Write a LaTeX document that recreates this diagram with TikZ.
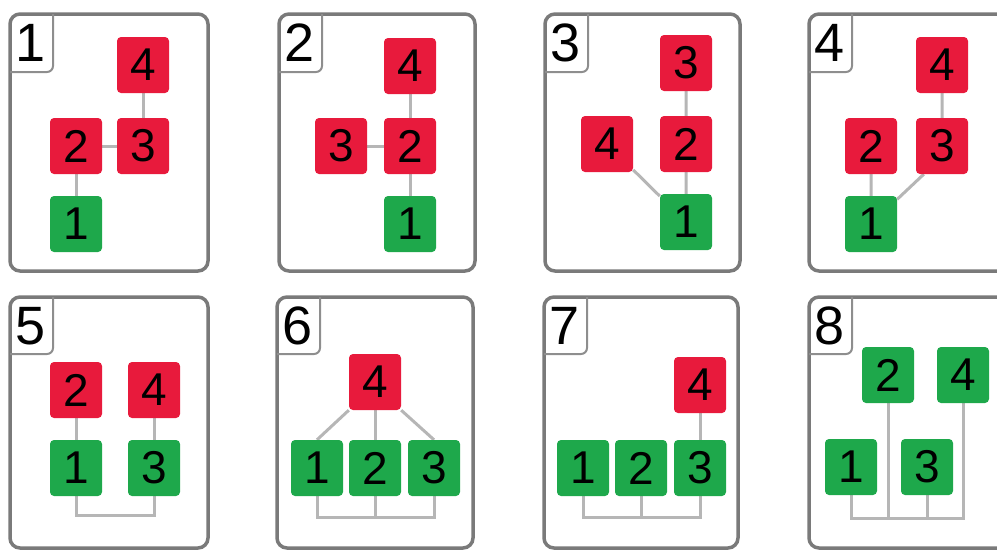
\documentclass[tikz,border=0pt]{standalone}
\usepackage{fontspec}
\setmainfont{Liberation Sans}
\usepackage{tikz}
\usetikzlibrary{backgrounds}

\definecolor{tilered}{RGB}{232,26,60}
\definecolor{tilegreen}{RGB}{30,168,75}
\definecolor{framegray}{RGB}{122,122,122}
\definecolor{linkgray}{RGB}{182,182,182}

\tikzset{
	tile/.style={rounded corners=4pt,minimum width=52pt,minimum height=56pt,inner sep=0pt,font=\fontsize{46}{46}\selectfont},
	redtile/.style={tile,fill=tilered},
	greentile/.style={tile,fill=tilegreen},
	link/.style={draw=linkgray,line width=3pt},
	frame/.style={draw=framegray,line width=3.5pt,rounded corners=10pt},
	tabline/.style={draw=framegray!85,line width=2pt,rounded corners=6pt},
	tabnum/.style={inner sep=0pt,font=\fontsize{54}{54}\selectfont}
}

\begin{document}
\begin{tikzpicture}[x=1pt,y=-1pt]
		\useasboundingbox (0,0) rectangle (997,552);
		\clip (0,0) rectangle (997,552);

		\draw[frame] (10,14) rectangle (208,271);
		\draw[tabline] (53,14) |- (10,72);
		\node[tabnum] (t1) at (31,43) {1};
		\node[redtile] (p1n4) at (143,65) {4};
		\node[redtile] (p1n2) at (76,146) {2};
		\node[redtile] (p1n3) at (143,146) {3};
		\node[greentile] (p1n1) at (76,224) {1};

		\draw[frame] (279,14) rectangle (475,271);
		\draw[tabline] (322,14) |- (279,72);
		\node[tabnum] (t2) at (300,43) {2};
		\node[redtile] (p2n4) at (410,66) {4};
		\node[redtile] (p2n3) at (341,146) {3};
		\node[redtile] (p2n2) at (410,146) {2};
		\node[greentile] (p2n1) at (410,224) {1};

		\draw[frame] (545,14) rectangle (740,271);
		\draw[tabline] (588,14) |- (545,72);
		\node[tabnum] (t3) at (566,43) {3};
		\node[redtile] (p3n3) at (686,63) {3};
		\node[redtile] (p3n4) at (607,144) {4};
		\node[redtile] (p3n2) at (686,144) {2};
		\node[greentile] (p3n1) at (686,222) {1};

		\draw[frame] (809,14) rectangle (1008,271);
		\draw[tabline] (852,14) |- (809,72);
		\node[tabnum] (t4) at (830,43) {4};
		\node[redtile] (p4n4) at (942,65) {4};
		\node[redtile] (p4n2) at (871,146) {2};
		\node[redtile] (p4n3) at (942,146) {3};
		\node[greentile] (p4n1) at (871,224) {1};

		\draw[frame] (10,297) rectangle (208,548);
		\draw[tabline] (53,297) |- (10,354);
		\node[tabnum] (t5) at (31,326) {5};
		\node[redtile] (p5n2) at (76,390) {2};
		\node[redtile] (p5n4) at (154,390) {4};
		\node[greentile] (p5n1) at (76,468) {1};
		\node[greentile] (p5n3) at (154,468) {3};
		\coordinate (p5bus) at (0,515);

		\draw[frame] (277,297) rectangle (473,548);
		\draw[tabline] (320,297) |- (277,354);
		\node[tabnum] (t6) at (298,326) {6};
		\node[redtile] (p6n4) at (375,382) {4};
		\node[greentile] (p6n1) at (317,468) {1};
		\node[greentile] (p6n2) at (375,468) {2};
		\node[greentile] (p6n3) at (434,468) {3};
		\coordinate (p6bus) at (0,517);

		\draw[frame] (544,297) rectangle (738,548);
		\draw[tabline] (587,297) |- (544,354);
		\node[tabnum] (t7) at (565,326) {7};
		\node[redtile] (p7n4) at (700,385) {4};
		\node[greentile] (p7n1) at (583,468) {1};
		\node[greentile] (p7n2) at (641,468) {2};
		\node[greentile] (p7n3) at (700,468) {3};
		\coordinate (p7bus) at (0,517);

		\draw[frame] (809,297) rectangle (1008,548);
		\draw[tabline] (852,297) |- (809,354);
		\node[tabnum] (t8) at (830,326) {8};
		\node[greentile] (p8n2) at (888,375) {2};
		\node[greentile] (p8n4) at (963,375) {4};
		\node[greentile] (p8n1) at (851,467) {1};
		\node[greentile] (p8n3) at (927,467) {3};
		\coordinate (p8bus) at (0,518);

		\begin{scope}[on background layer]
		\draw[link] (p1n1) -- (p1n2) -- (p1n3) -- (p1n4);
		\draw[link] (p2n1) -- (p2n4) (p2n3) -- (p2n2);
		\draw[link] (p3n1) -- (p3n3) (p3n4) -- (p3n1);
		\draw[link] (p4n4) -- (p4n3) (p4n2) -- (p4n1) -- ([xshift=8pt]p4n3.south west);
		\draw[link] (p5n2) -- (p5n1) (p5n4) -- (p5n3);
		\draw[link] (p5n1) |- (p5bus -| p5n3) -- (p5n3);
		\draw[link] (p6n4.south west) -- (p6n1.north) (p6n4.south east) -- (p6n3.north);
		\draw[link] (p6n4) -- (p6n2 |- p6bus) (p6n1) |- (p6bus -| p6n3) -- (p6n3);
		\draw[link] (p7n1) |- (p7bus -| p7n3) -- (p7n4) (p7n2) -- (p7n2 |- p7bus);
		\draw[link] (p8n1) |- (p8bus -| p8n4) -- (p8n4);
		\draw[link] (p8n2) -- (p8n2 |- p8bus) (p8n3) -- (p8n3 |- p8bus);
		\end{scope}
\end{tikzpicture}
\end{document}
